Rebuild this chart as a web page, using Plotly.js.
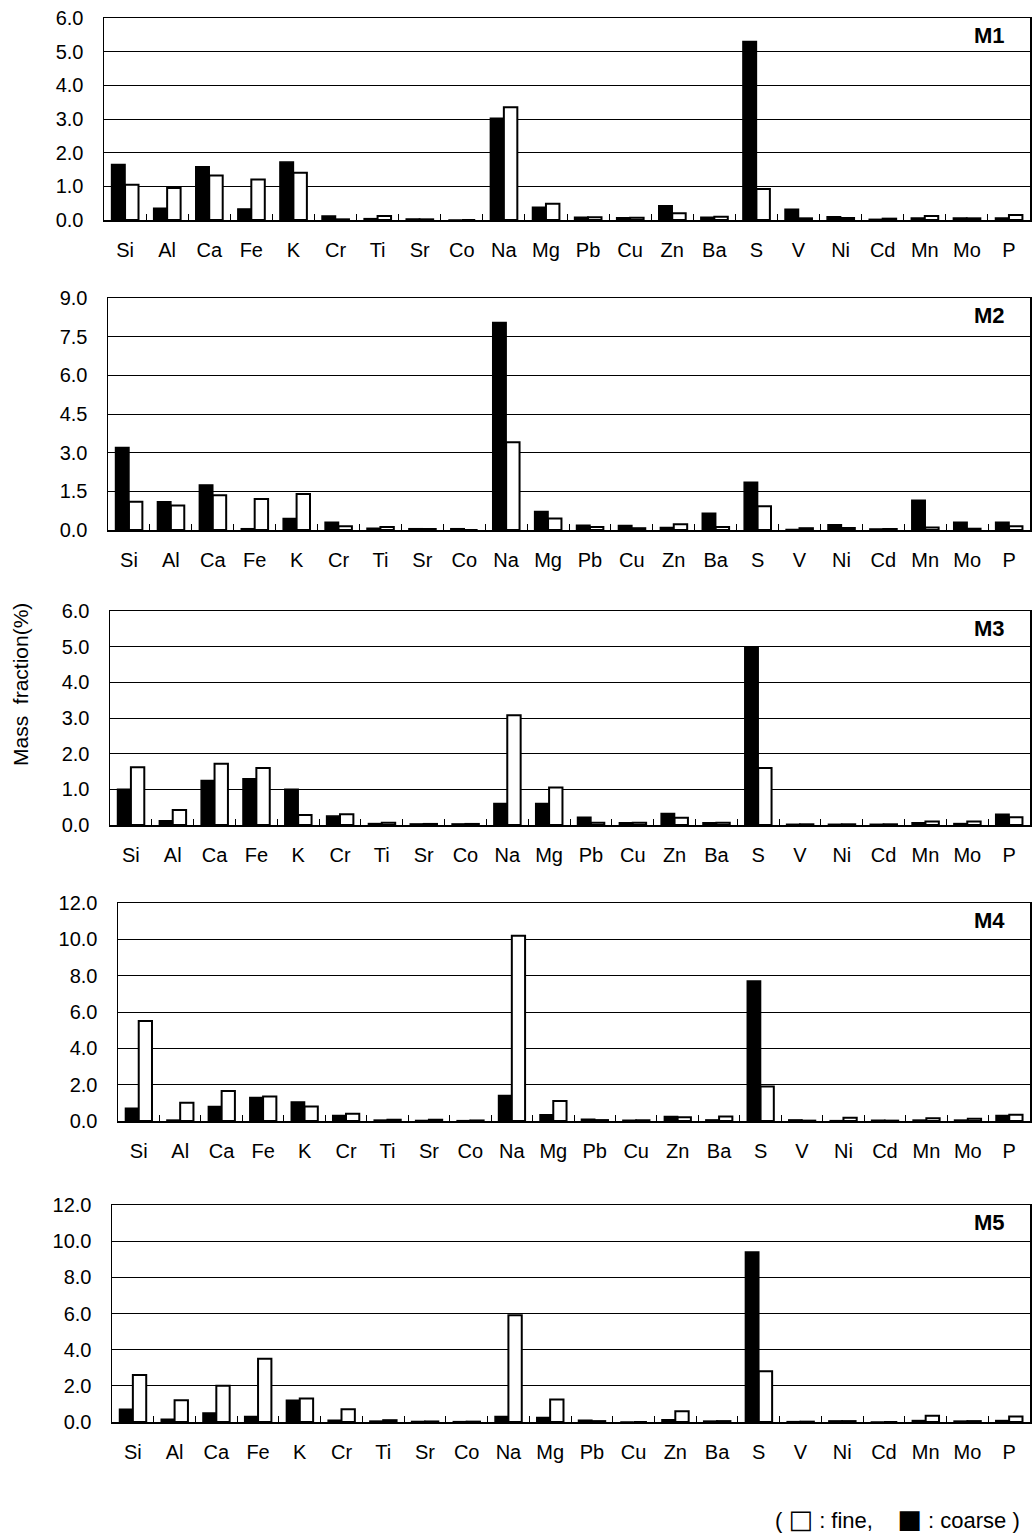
<!DOCTYPE html>
<html>
<head>
<meta charset="utf-8">
<script src="https://cdn.plot.ly/plotly-3.0.1.min.js"></script>
<style>html,body{margin:0;padding:0;background:#fff;}#chart{width:1034px;height:1533px;}</style>
</head>
<body>
<div id="chart"></div>
<script>
const categories = ['Si','Al','Ca','Fe','K','Cr','Ti','Sr','Co','Na','Mg','Pb','Cu','Zn','Ba','S','V','Ni','Cd','Mn','Mo','P'];
const panelNames = ['M1','M2','M3','M4','M5'];

const m1Coarse = [1.65,0.35,1.58,0.33,1.72,0.12,0.04,0.03,0.00,3.02,0.38,0.08,0.07,0.42,0.08,5.30,0.32,0.10,0.02,0.06,0.06,0.06];
const m1Fine   = [1.05,0.95,1.32,1.20,1.40,0.02,0.12,0.02,0.00,3.35,0.48,0.08,0.07,0.20,0.10,0.92,0.05,0.06,0.04,0.12,0.05,0.15];

const m2Coarse = [3.20,1.10,1.75,0.05,0.45,0.30,0.07,0.05,0.05,8.05,0.72,0.18,0.17,0.10,0.65,1.85,0.02,0.20,0.04,1.15,0.30,0.30];
const m2Fine   = [1.10,0.95,1.35,1.20,1.40,0.15,0.12,0.04,0.00,3.40,0.45,0.12,0.07,0.22,0.12,0.92,0.07,0.08,0.04,0.10,0.05,0.15];

const m3Coarse = [1.00,0.12,1.25,1.30,1.00,0.25,0.04,0.03,0.03,0.60,0.60,0.22,0.06,0.32,0.06,5.00,0.02,0.02,0.02,0.06,0.04,0.30];
const m3Fine   = [1.62,0.42,1.72,1.60,0.28,0.30,0.06,0.03,0.03,3.08,1.05,0.06,0.06,0.20,0.06,1.60,0.02,0.02,0.02,0.10,0.10,0.22];

const m4Coarse = [0.70,0.05,0.80,1.30,1.05,0.30,0.05,0.03,0.02,1.40,0.35,0.10,0.04,0.25,0.06,7.70,0.06,0.02,0.04,0.05,0.05,0.30];
const m4Fine   = [5.50,1.00,1.65,1.35,0.80,0.40,0.07,0.07,0.03,10.20,1.10,0.05,0.04,0.20,0.25,1.90,0.02,0.18,0.02,0.15,0.12,0.35];

const m5Coarse = [0.70,0.15,0.50,0.30,1.20,0.10,0.05,0.03,0.02,0.30,0.25,0.10,0.00,0.12,0.05,9.40,0.02,0.06,0.00,0.08,0.05,0.08];
const m5Fine   = [2.60,1.20,2.00,3.50,1.30,0.70,0.10,0.03,0.02,5.90,1.25,0.05,0.00,0.60,0.05,2.80,0.02,0.05,0.00,0.35,0.05,0.30];

const coarseSets = [m1Coarse,m2Coarse,m3Coarse,m4Coarse,m5Coarse];
const fineSets = [m1Fine,m2Fine,m3Fine,m4Fine,m5Fine];
const yMax = [6,9,6,12,12];
const yStep = [1,1.5,1,2,2];

const W = 1034, H = 1533;
// pixel boxes [left, right, top, bottom]
const boxes = [[104,1030,18,220],[108,1030,298,530],[110,1030,611,825],[118,1030,903,1121],[112,1030,1205,1422]];

const fontFam = 'Liberation Sans, Arial, sans-serif';
const traces = [];
const layout = {
  width: W, height: H,
  margin: {l:0,r:0,t:0,b:0},
  paper_bgcolor: '#fff', plot_bgcolor: '#fff',
  showlegend: false,
  barmode: 'group', bargap: 0.36, bargroupgap: 0,
  font: {family: fontFam, color: '#000', size: 20},
  annotations: [], shapes: []
};

for (let i = 0; i < 5; i++) {
  const sfx = i === 0 ? '' : String(i+1);
  const xa = 'x' + sfx, ya = 'y' + sfx;
  traces.push({type:'bar', x: categories, y: coarseSets[i], xaxis: xa, yaxis: ya, name:'coarse',
    marker:{color:'#000', line:{color:'#000', width:1.5}}, hoverinfo:'x+y'});
  traces.push({type:'bar', x: categories, y: fineSets[i], xaxis: xa, yaxis: ya, name:'fine',
    marker:{color:'#fff', line:{color:'#000', width:2}}, hoverinfo:'x+y'});
  const b = boxes[i];
  layout['xaxis' + sfx] = {
    domain: [b[0]/W, b[1]/W], anchor: ya, type:'category',
    showline: true, linecolor:'#000', linewidth: 1.5, mirror: true,
    ticks: 'inside', tickson: 'boundaries', ticklen: 6, tickcolor: '#000', tickwidth: 1,
    showgrid: false, ticklabelstandoff: 11,
    tickfont: {family: fontFam, size: 20, color:'#000'}, fixedrange: true
  };
  const tv = [];
  for (let v = 0; v <= yMax[i] + 1e-9; v += yStep[i]) tv.push(+v.toFixed(2));
  layout['yaxis' + sfx] = {
    domain: [1 - b[3]/H, 1 - b[2]/H], anchor: xa,
    range: [0, yMax[i]], tickvals: tv, tickformat: '.1f',
    showline: true, linecolor:'#000', linewidth: 1.5, mirror: true,
    showgrid: true, gridcolor:'#000', gridwidth: 1, zeroline: false,
    ticks: '', ticklabelstandoff: 15,
    tickfont: {family: fontFam, size: 20, color:'#000'}, fixedrange: true
  };
  layout.annotations.push({
    xref: xa + ' domain', yref: ya + ' domain', x: 0.975, y: 0.985,
    xanchor: 'right', yanchor: 'top', showarrow: false,
    text: '<b>' + panelNames[i] + '</b>', font: {family: fontFam, size: 22, color:'#000'}
  });
}

layout.annotations.push({
  xref:'paper', yref:'paper', x: 20/W, y: 1 - 685/H, textangle: -90,
  showarrow:false, text:'Mass  fraction(%)', font:{family: fontFam, size: 21, color:'#000'},
  xanchor:'center', yanchor:'middle'
});
layout.annotations.push({
  xref:'paper', yref:'paper', x: 1022/W, y: 1 - 1519/H,
  showarrow:false,
  text:'(&nbsp;<span style="font-family:DejaVu Sans;font-size:26px">□</span>&nbsp;:&nbsp;fine,&nbsp;&nbsp;&nbsp;&nbsp;<span style="font-family:DejaVu Sans;font-size:26px">■</span>&nbsp;:&nbsp;coarse&nbsp;)',
  font:{family: fontFam, size: 22, color:'#000'},
  xanchor:'right', yanchor:'middle'
});

Plotly.newPlot('chart', traces, layout, {staticPlot: true, displayModeBar: false});
</script>
</body>
</html>
